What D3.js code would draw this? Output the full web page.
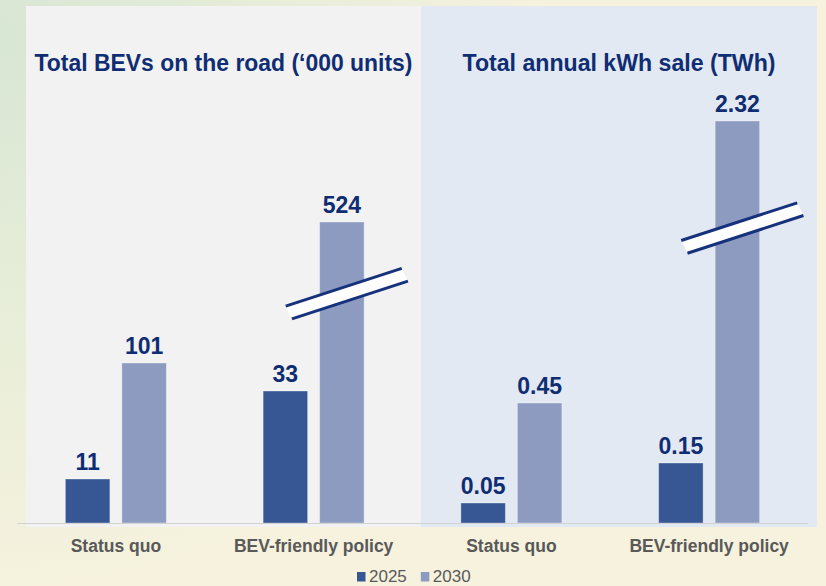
<!DOCTYPE html>
<html><head><meta charset="utf-8">
<script src="https://cdn.jsdelivr.net/npm/d3@7"></script>
<style>body{margin:0;background:#f6f2de;} svg{display:block;}</style>
</head><body><svg id="c" width="826" height="586"></svg>
<script>
// ---------------- DATA ----------------
const categories = ["Status quo", "BEV-friendly policy"];
const seriesNames = ["2025", "2030"];
const panelTitles = ["Total BEVs on the road (\u2018000 units)", "Total annual kWh sale (TWh)"];
const bevs2025 = [11, 33];
const bevs2030 = [101, 524];
const kwh2025 = [0.05, 0.15];
const kwh2030 = [0.45, 2.32];
const labelFormats = ["d", ".2f"];
// bar drawn with an axis break (panel, category, series)
const brokenBars = [[0, 1, 1], [1, 1, 1]];

// ---------------- LAYOUT / STYLE ----------------
const W = 826, H = 586;
const baseY = 523;
const colors = {"2025": "#365694", "2030": "#8c9bbf"};
const navy = "#0f2d72";
const grey = "#595959";
const font = "'Liberation Sans', Arial, sans-serif";
// the original uses a non-linear (broken) value axis: knots in pixels of bar height
const heightKnots = [[0, 44, 132, 160, 301], [0, 20, 60, 120, 402]];
const breakFrac = [0.761, 0.733];

const svg = d3.select("#c");
const defs = svg.append("defs");
const rg = defs.append("radialGradient").attr("id", "bg")
  .attr("gradientUnits", "userSpaceOnUse").attr("cx", 0).attr("cy", 40).attr("r", 560);
rg.append("stop").attr("offset", 0).attr("stop-color", "#d8e6d4");
rg.append("stop").attr("offset", 0.45).attr("stop-color", "#e6edd8");
rg.append("stop").attr("offset", 1).attr("stop-color", "#f6f2de");
svg.append("rect").attr("width", W).attr("height", H).attr("fill", "url(#bg)");

// panels
const panels = [{x0: 26, x1: 421, fill: "#f2f2f2"}, {x0: 421, x1: 817, fill: "#e3e9f3"}];
panels.forEach(p => svg.append("rect").attr("x", p.x0).attr("y", 6)
  .attr("width", p.x1 - p.x0).attr("height", 527 - 6).attr("fill", p.fill));

// x scales
const allCats = [0, 1, 2, 3];
const x = d3.scaleBand().domain(allCats).range([17, 808]).paddingInner(0).paddingOuter(0);
const xs = d3.scaleBand().domain(seriesNames).range([-50.5, 50.5]).paddingInner(12 / 56.5);

const panelData = [[bevs2025, bevs2030], [kwh2025, kwh2030]];

panelData.forEach((pd, pi) => {
  const vals = [0].concat(pd[0], pd[1]).sort((a, b) => a - b);
  const hs = heightKnots[pi];
  const y = d3.scaleLinear().domain(vals).range(hs.map(h => baseY - h));
  const fmt = d3.format(labelFormats[pi]);
  const g = svg.append("g");
  categories.forEach((cat, ci) => {
    const cx = x(pi * 2 + ci) + x.bandwidth() / 2;
    seriesNames.forEach((s, si) => {
      const v = pd[si][ci];
      const bx = cx + xs(s);
      const ty = y(v);
      g.append("rect").attr("x", bx).attr("y", ty)
        .attr("width", xs.bandwidth()).attr("height", baseY - ty)
        .attr("fill", colors[s]).attr("stroke", "rgba(255,255,255,0.35)").attr("stroke-width", 1);
      g.append("text").attr("x", bx + xs.bandwidth() / 2).attr("y", ty - 9)
        .attr("text-anchor", "middle").attr("font-family", font).attr("font-weight", "bold")
        .attr("font-size", 23).attr("fill", navy).text(fmt(v));
      const isBroken = brokenBars.some(b => b[0] === pi && b[1] === ci && b[2] === si);
      if (isBroken) {
        const bcx = bx + xs.bandwidth() / 2 + 4;
        const bcy = baseY - (baseY - ty) * breakFrac[pi];
        const th = -18 * Math.PI / 180;
        const u = [Math.cos(th), Math.sin(th)], n = [-Math.sin(th), Math.cos(th)];
        const L = 61, h = 7;
        const pt = (a, b) => [bcx + a * u[0] + b * n[0], bcy + a * u[1] + b * n[1]];
        const up = [pt(-L, -h), pt(L, -h)], lo = [pt(-L + 2, h), pt(L + 2, h)];
        g.append("polygon").attr("points", [up[0], up[1], lo[1], lo[0]].map(p => p.join(",")).join(" "))
          .attr("fill", "#ffffff");
        [up, lo].forEach(l => g.append("line")
          .attr("x1", l[0][0]).attr("y1", l[0][1]).attr("x2", l[1][0]).attr("y2", l[1][1])
          .attr("stroke", "#16327c").attr("stroke-width", 3));
      }
    });
    svg.append("text").attr("x", cx).attr("y", 552).attr("text-anchor", "middle")
      .attr("font-family", font).attr("font-weight", "bold").attr("font-size", 17.5)
      .attr("fill", grey).text(cat);
  });
  // title
  const p = panels[pi];
  svg.append("text").attr("x", (p.x0 + p.x1) / 2).attr("y", 70.5).attr("text-anchor", "middle")
    .attr("font-family", font).attr("font-weight", "bold").attr("font-size", 24)
    .attr("fill", navy).attr("textLength", pi === 0 ? 378 : 313)
    .attr("lengthAdjust", "spacingAndGlyphs").text(panelTitles[pi]);
});

// axis line
svg.append("line").attr("x1", 17).attr("x2", 808).attr("y1", baseY + 0.5).attr("y2", baseY + 0.5)
  .attr("stroke", "#d2d2d2").attr("stroke-width", 1);

// legend
const leg = svg.append("g");
let lx = 357;
seriesNames.forEach(s => {
  leg.append("rect").attr("x", lx).attr("y", 572).attr("width", 8.5).attr("height", 9.5).attr("fill", colors[s]);
  const t = leg.append("text").attr("x", lx + 12).attr("y", 581.5).attr("font-family", font)
    .attr("font-size", 17).attr("fill", grey).text(s);
  lx += 12 + t.node().getComputedTextLength() + 14;
});
</script></body></html>
